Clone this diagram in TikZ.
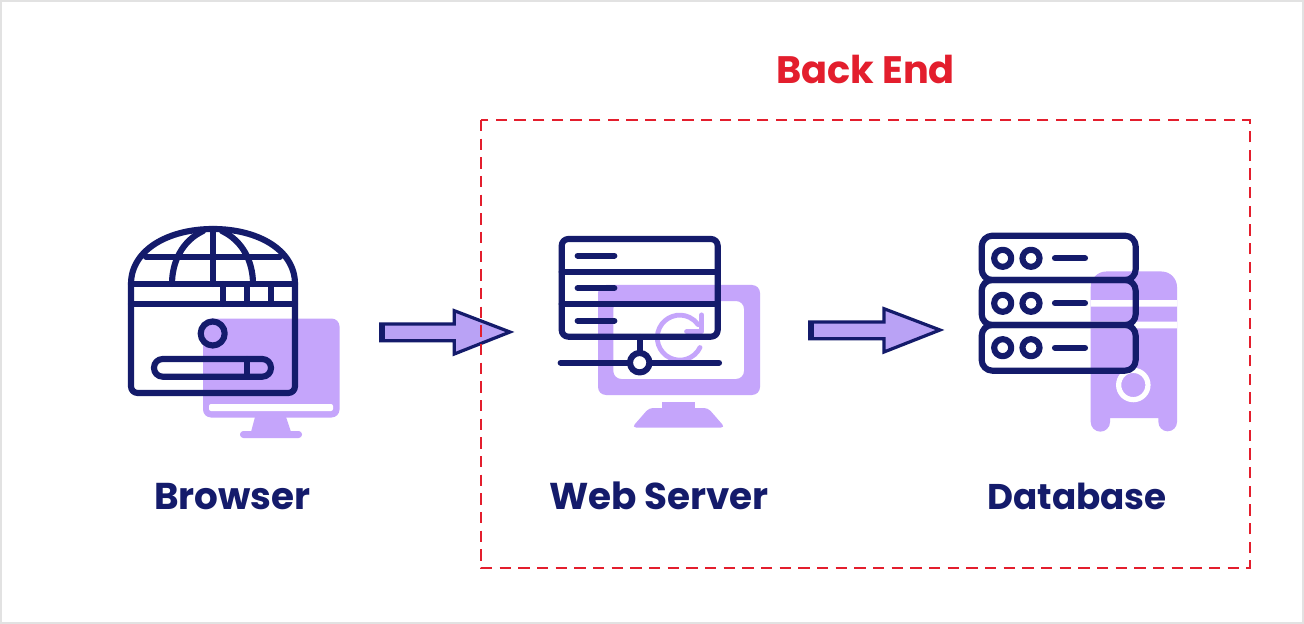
\documentclass[tikz,border=0pt]{standalone}
\usepackage{fontspec}
\setmainfont{Poppins}
\definecolor{navy}{HTML}{141B6B}
\definecolor{lilac}{HTML}{C5A5FB}
\definecolor{arrowfill}{HTML}{B9A2F5}
\definecolor{redc}{HTML}{E31E2D}
\definecolor{edge}{HTML}{E2E2E2}
\tikzset{
  ln/.style={draw=navy,line width=4.6pt,line cap=round,line join=round},
  pur/.style={fill=lilac,draw=none},
  wht/.style={fill=white,draw=none},
  flow/.style={draw=navy,fill=arrowfill,line width=2.4pt,line join=miter},
  cap label/.style={font=\fontsize{28}{32}\selectfont\bfseries,text=navy,anchor=base,inner sep=0pt},
}
\begin{document}
\begin{tikzpicture}[x=0.75pt,y=-0.75pt]
\useasboundingbox (0,0) rectangle (1304,624);
\fill[white] (0,0) rectangle (1304,624);
\draw[edge,line width=1.5pt] (1,1) rectangle (1303,623);
% Browser backdrop
\fill[pur,rounded corners=6pt] (203,318.5) rectangle (339.5,417.5);
\fill[wht,rounded corners=1.5pt] (209,404) rectangle (333,411);
\fill[pur] (255,417) -- (286,417) -- (291,432) -- (251,432) -- cycle;
\fill[pur,rounded corners=2.5pt] (240,431) rectangle (302,438);
% Browser icon
\draw[ln,rounded corners=5pt] (131,284) -- (131,393) -- (295,393) -- (295,284);
\draw[ln] (131,284) .. controls (131,250) and (168,229) .. (213,229) .. controls (258,229) and (295,250) .. (295,284);
\draw[ln] (146,256.7) -- (280,256.7);
\draw[ln] (131,284) -- (295,284);
\draw[ln] (131,304) -- (295,304);
\draw[ln] (212.7,229) -- (212.7,284);
\draw[ln] (172,284) .. controls (172,262) and (182,241) .. (203,231);
\draw[ln] (253,284) .. controls (253,262) and (243,241) .. (222,231);
\draw[ln] (222.7,284) -- (222.7,304) (247,284) -- (247,304) (271,284) -- (271,304);
\draw[ln] (212.7,333.5) circle[radius=9pt];
\draw[ln,rounded corners=6.5pt] (154,359) rectangle (271,376.7);
\draw[ln] (247,359) -- (247,376.7);
\node[cap label] (l1) at (232.5,509) {Browser};
% Web server backdrop
\fill[pur,even odd rule,rounded corners=6pt] (598,285) rectangle (760,395) (613.3,301) rectangle (744,379);
\fill[pur] (662.3,401.7) rectangle (695,409);
\fill[pur,rounded corners=3pt] (649,408) -- (708,408) -- (725,427.5) -- (632,427.5) -- cycle;
\draw[draw=lilac,line width=3.6pt,line cap=round] (700,347.5) arc[start angle=26,end angle=325,radius=22.5];
\draw[draw=lilac,line width=3.8pt,line cap=round,line join=round] (701.7,315) -- (701.7,331.7) -- (686.7,331.7);
% Web server icon
\draw[ln,rounded corners=5pt] (561.7,239) rectangle (717.7,336.7);
\draw[ln] (561.7,271.7) -- (717.7,271.7) (561.7,304.3) -- (717.7,304.3);
\draw[ln] (577.7,255.7) -- (614.3,255.7) (577.7,288) -- (614.3,288) (577.7,320.7) -- (614.3,320.7);
\draw[ln] (560.7,362.7) -- (719,362.7);
\draw[ln] (639.7,337) -- (639.7,352);
\draw[ln,fill=white] (639.7,362.7) circle[radius=7.3pt];
\node[cap label] (l2) at (659,509) {Web Server};
% Database backdrop
\fill[pur] (1090.7,422) -- (1090.7,287) arc[start angle=180,end angle=270,radius=15.5] -- (1161.5,271.5) arc[start angle=270,end angle=360,radius=15.5] -- (1177,422) arc[start angle=0,end angle=180,radius=9.3] -- (1158.4,418) -- (1110,418) -- (1110,422) arc[start angle=0,end angle=180,radius=9.65] -- cycle;
\fill[wht] (1090.7,300) rectangle (1177,306.7) (1090.7,321.7) rectangle (1177,328.3);
\draw[draw=white,line width=3.9pt] (1133.3,385) circle[radius=11pt];
% Database icon
\draw[ln,rounded corners=8pt] (981.7,235.7) rectangle (1135.7,280);
\draw[ln,rounded corners=8pt] (981.7,280) rectangle (1135.7,325);
\draw[ln,rounded corners=8pt] (981.7,325) rectangle (1135.7,370.7);
\foreach \yy in {258.3,303.3,347.7}{
  \draw[ln] (1002.7,\yy) circle[radius=6.4pt];
  \draw[ln] (1031,\yy) circle[radius=6.4pt];
  \draw[ln] (1055,\yy) -- (1085,\yy);
}
\node[cap label,font=\fontsize{26.8}{32}\selectfont\bfseries] (l3) at (1077,509) {Database};
% Flow arrows
\draw[flow] (380.7,324) -- (454.3,324) -- (454.3,310.7) -- (510,332) -- (454.3,354) -- (454.3,340.7) -- (380.7,340.7) -- cycle;
\fill[navy] (379.5,322.7) rectangle (384.5,342);
\draw[flow] (809.7,322) -- (884,322) -- (884,308.7) -- (940,330) -- (884,352) -- (884,338.7) -- (809.7,338.7) -- cycle;
\fill[navy] (808.5,320.7) rectangle (813.5,340);
% Back end box
\coordinate (bxa) at (481,120);
\coordinate (bxb) at (1250,568);
\draw[redc,line width=1.9pt,dash pattern=on 8.6pt off 5.4pt] (bxa) rectangle (bxb);
\node[font=\fontsize{28.7}{32}\selectfont\bfseries,text=redc,anchor=base,inner sep=0pt] (be) at (865.5,84) {Back End};
\end{tikzpicture}
\end{document}
